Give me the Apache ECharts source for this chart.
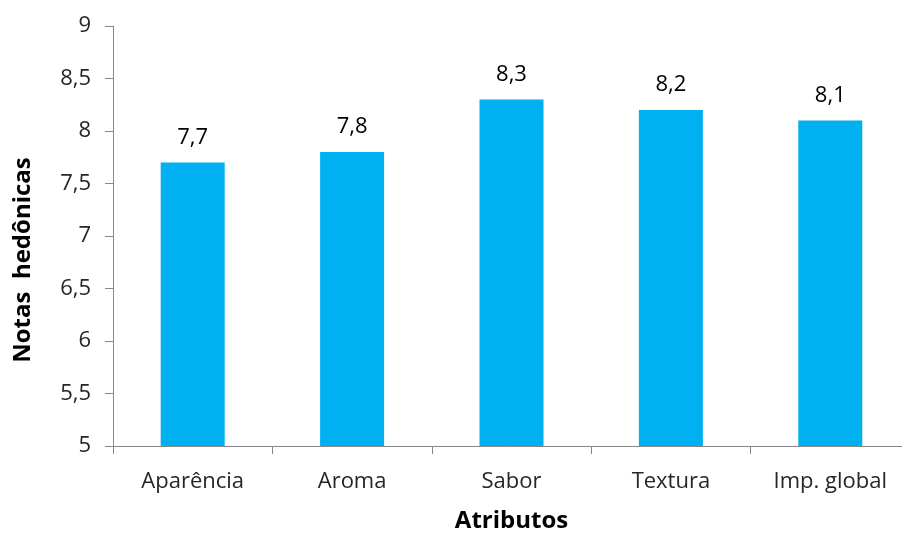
<!DOCTYPE html>
<html>
<head>
<meta charset="utf-8">
<script src="https://cdn.jsdelivr.net/npm/echarts@6/dist/echarts.min.js"></script>
<style>
  html, body { margin: 0; padding: 0; background: #fff; }
  #chart { width: 902px; height: 533px; }
</style>
</head>
<body>
<div id="chart"></div>
<script>
// Hedonic scores by sensory attribute
const categories = ['Aparência', 'Aroma', 'Sabor', 'Textura', 'Imp. global'];
const scores = [7.7, 7.8, 8.3, 8.2, 8.1];

const fmt = v => String(v).replace('.', ',');
const fontFamily = '"Open Sans", "Liberation Sans", sans-serif';

const chart = echarts.init(document.getElementById('chart'));
chart.setOption({
  animation: false,
  textStyle: { fontFamily },
  grid: { left: 113, right: -8, top: 26, bottom: 87, containLabel: false, outerBoundsMode: 'none' },
  xAxis: {
    type: 'category',
    data: categories,
    name: 'Atributos',
    nameLocation: 'middle',
    nameGap: 63,
    nameTextStyle: { fontSize: 24, fontWeight: 'bold', color: '#000', fontFamily },
    axisLine: { lineStyle: { color: '#878787', width: 1 } },
    axisTick: { show: true, length: 8, alignWithLabel: false, lineStyle: { color: '#878787' } },
    axisLabel: { fontSize: 22, color: '#262626', margin: 25, fontFamily }
  },
  yAxis: {
    type: 'value',
    min: 5,
    max: 9,
    interval: 0.5,
    name: 'Notas  hedônicas',
    nameLocation: 'middle',
    nameGap: 78,
    nameTextStyle: { fontSize: 24, fontWeight: 'bold', color: '#000', fontFamily, padding: [0, 48, 0, 0] },
    axisLine: { show: true, lineStyle: { color: '#878787', width: 1 } },
    axisTick: { show: true, length: 8, lineStyle: { color: '#878787' } },
    axisLabel: { fontSize: 22, color: '#262626', margin: 22, formatter: v => fmt(v), fontFamily },
    splitLine: { show: false }
  },
  series: [{
    type: 'bar',
    data: scores,
    barWidth: 64,
    itemStyle: { color: '#00B0F0' },
    label: {
      show: true,
      position: 'top',
      distance: 14,
      fontSize: 22,
      color: '#000',
      fontFamily,
      formatter: p => fmt(p.value)
    }
  }]
});
</script>
</body>
</html>
